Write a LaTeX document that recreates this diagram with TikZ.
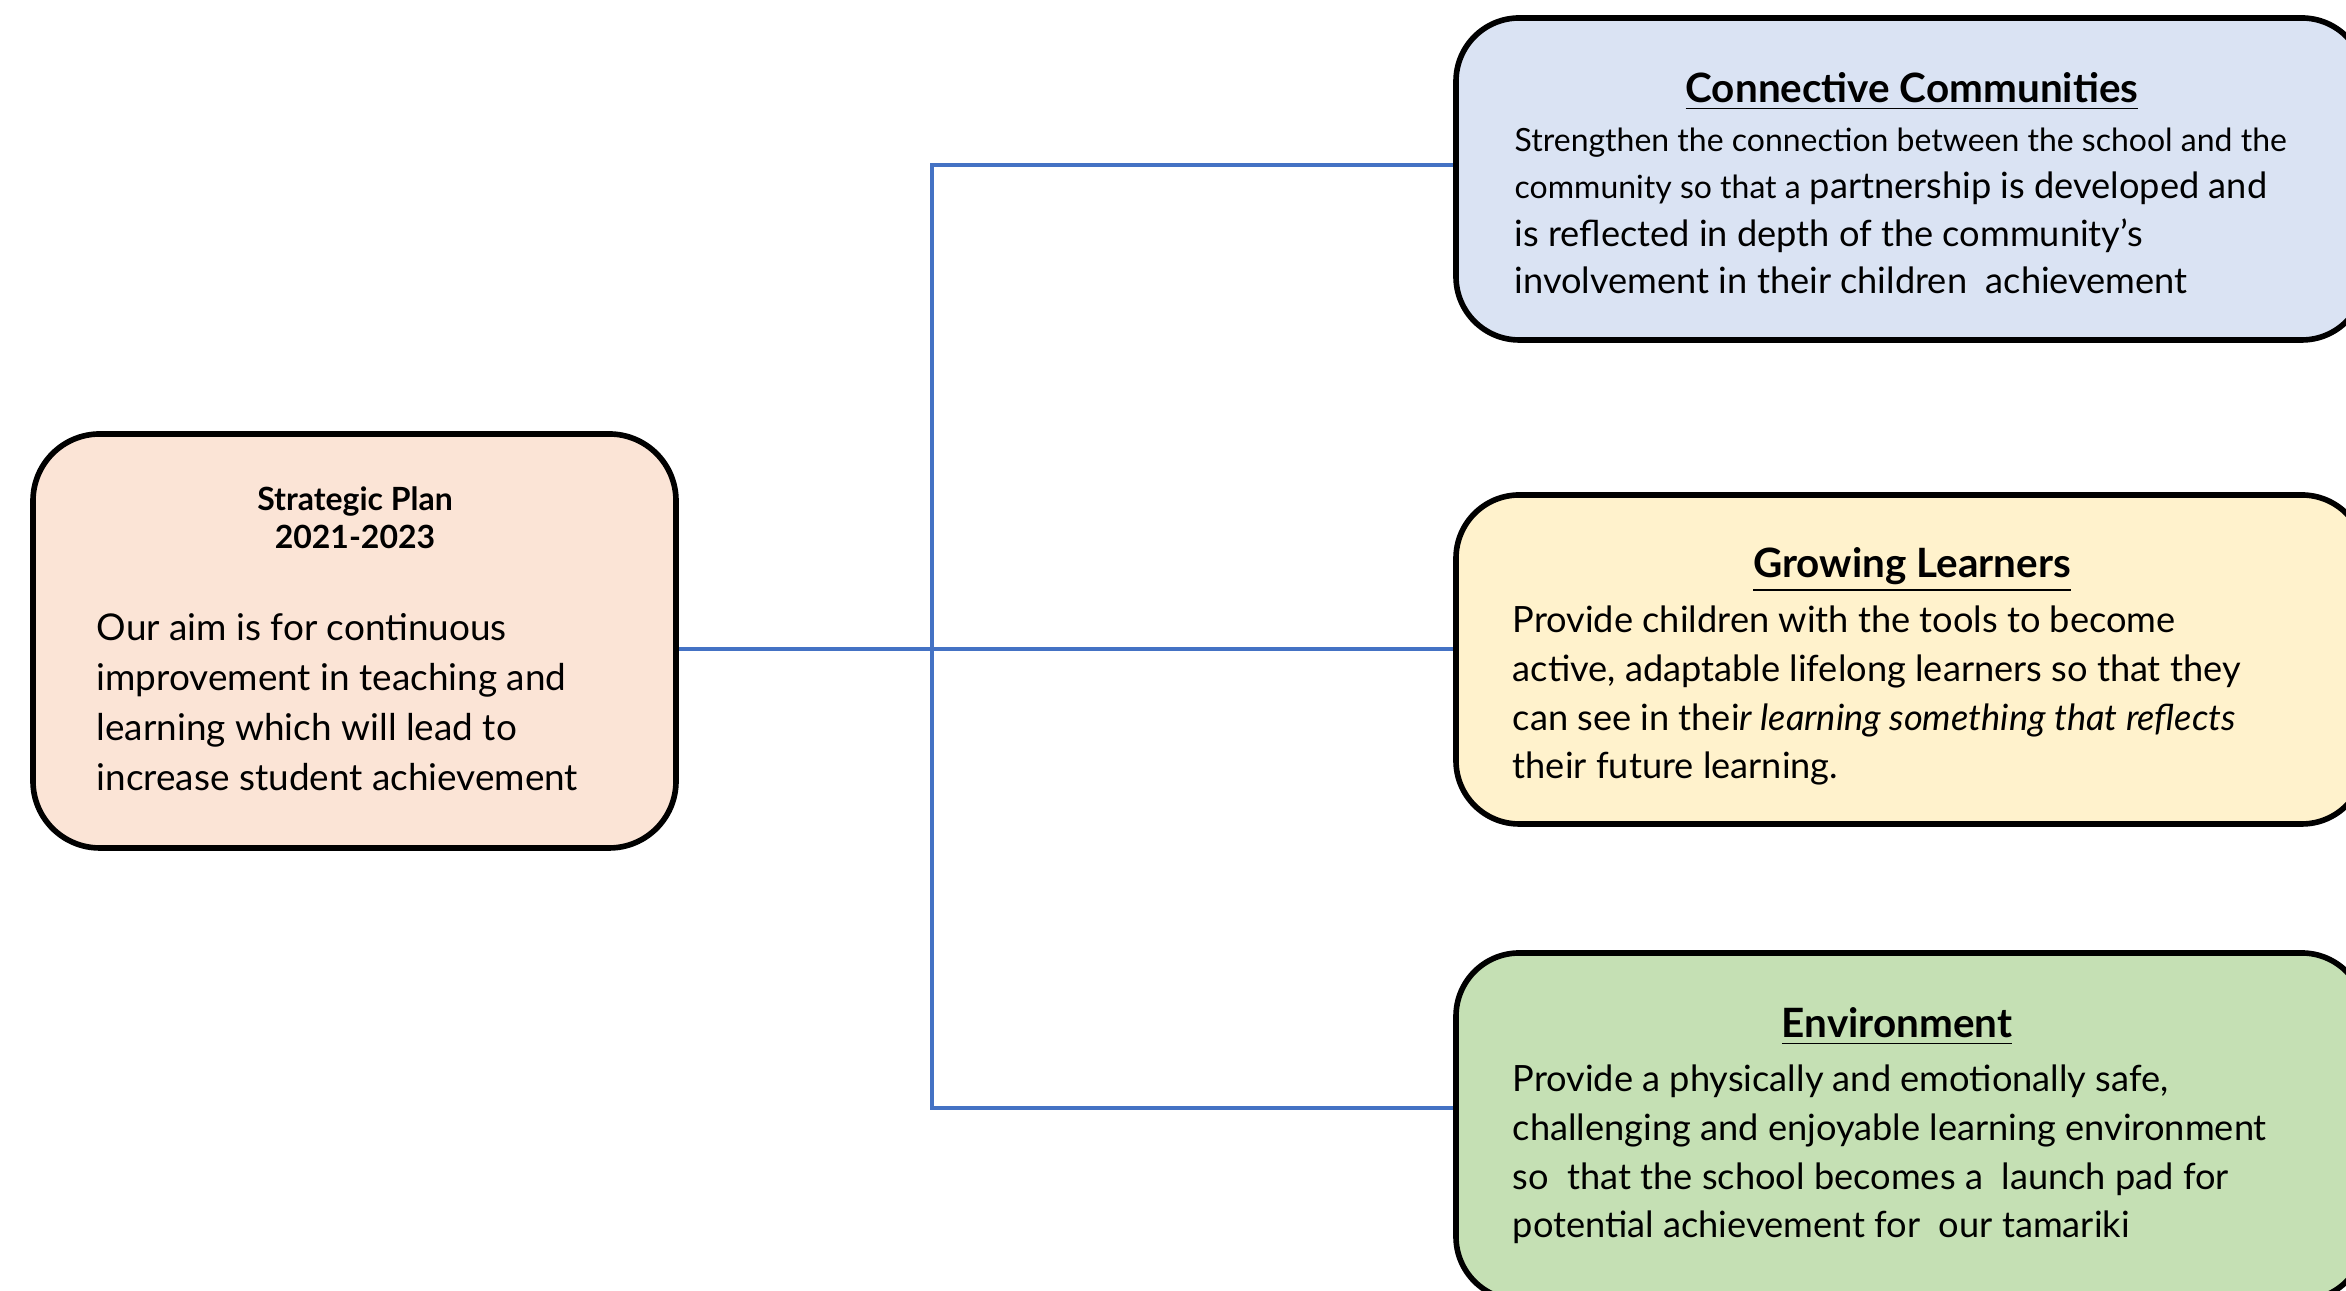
\documentclass[tikz,border=0pt]{standalone}
\usepackage{fontspec}
\setmainfont{Lato}
\usetikzlibrary{positioning}
\definecolor{PlanPeach}{RGB}{251,228,214}
\definecolor{CommBlue}{RGB}{218,227,243}
\definecolor{GrowYellow}{RGB}{255,242,204}
\definecolor{EnvGreen}{RGB}{197,224,180}
\definecolor{LinkBlue}{RGB}{68,114,196}
\tikzset{
  panel/.style={draw=black,line width=1.6pt,rounded corners=18pt},
  head/.style={font=\fontsize{11.5}{14}\selectfont\bfseries,anchor=base,inner sep=0pt},
  title/.style={font=\fontsize{9.1}{10.8}\selectfont\bfseries,align=center,anchor=north,inner sep=0pt},
  body/.style={font=\fontsize{10.3}{13.9}\selectfont,align=left,anchor=north west,inner sep=0pt},
  link/.style={draw=LinkBlue,line width=0.9pt}
}
\newcommand{\narrow}{\fontsize{9.1}{13.5}\selectfont}

\begin{document}
\begin{tikzpicture}[x=1cm,y=1cm]
  \useasboundingbox (0,0) rectangle (23.46,12.91);
  \clip (0,0) rectangle (23.46,12.91);
  % boxes
  \node[panel,fill=PlanPeach,rounded corners=19pt,minimum width=6.43cm,minimum height=4.14cm] (plan) at (3.545,6.50) {};
  \node[panel,fill=CommBlue,minimum width=9.09cm,minimum height=3.22cm] (comm) at (19.105,11.12) {};
  \node[panel,fill=GrowYellow,minimum width=9.09cm,minimum height=3.29cm] (grow) at (19.105,6.315) {};
  \node[panel,fill=EnvGreen,minimum width=9.09cm,minimum height=3.47cm] (env) at (19.105,1.645) {};
  % connectors
  \coordinate (hub) at (9.32,6.42);
  \coordinate (top) at (9.32,11.26);
  \coordinate (bot) at (9.32,1.83);
  \draw[link] (plan.east |- hub) -- (grow.west |- hub);
  \draw[link] (comm.west |- top) -- (top) -- (bot) -- (env.west |- bot);
  % texts
  \node[title] (planHead) at (3.55,8.05) {Strategic Plan\\2021-2023};
  \node[body,font=\fontsize{10.5}{14.2}\selectfont] (planText) at (0.96,6.78) {Our aim is for continuous\\improvement in teaching and\\learning which will lead to\\increase student achievement};
  \node[head] (commHead) at (19.12,11.88) {\underline{Connective Communities}};
  \node[body,font=\fontsize{10.3}{13.5}\selectfont] (commText) at (15.14,11.64) {{\narrow Strengthen the connection between the school and the}\\{\narrow community so that a} partnership is developed and\\is reflected in depth of the community’s\\involvement in their children\ \ achievement};
  \node[head] (growHead) at (19.12,7.13) {\underline{Growing Learners}};
  \node[body] (growText) at (15.12,6.86) {Provide children with the tools to become\\active, adaptable lifelong learners so that they\\can see in thei\textit{r learning something that reflects}\\their future learning.};
  \node[head] (envHead) at (18.97,2.53) {\underline{Environment}};
  \node[body] (envText) at (15.12,2.27) {Provide a physically and emotionally safe,\\challenging and enjoyable learning environment\\so\ \ that the school becomes a\ \ launch pad for\\potential achievement for\ \ our tamariki};
\end{tikzpicture}
\end{document}
